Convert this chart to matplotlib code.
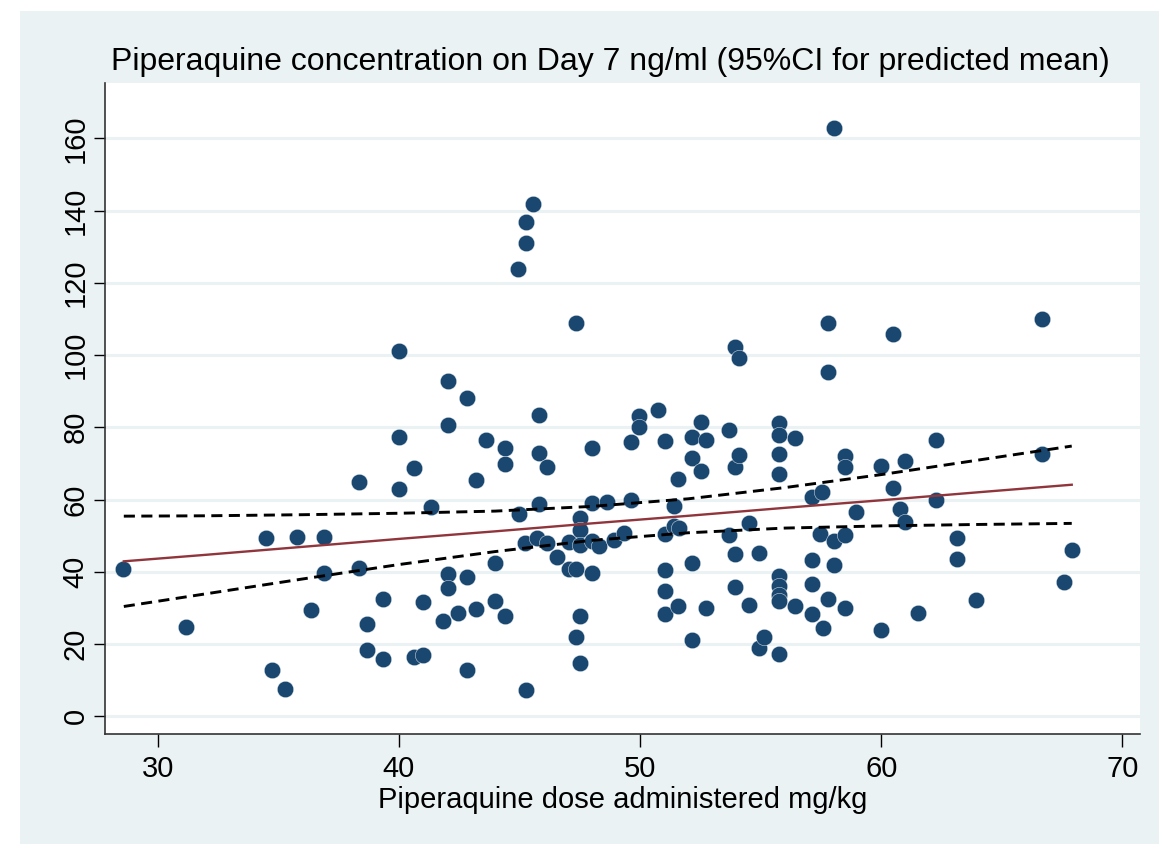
import matplotlib
matplotlib.use('Agg')
import matplotlib.pyplot as plt
from matplotlib.patches import Rectangle

# dose (mg/kg) and day-7 concentration (ng/ml)
dose = [28.55, 31.18, 34.5, 34.75, 35.29, 35.8, 36.37, 36.91, 36.92, 38.37,
        38.37, 38.69, 38.69, 39.34, 39.34, 39.99, 39.99, 39.99, 40.65, 40.65,
        41.0, 41.0, 41.35, 41.83, 42.05, 42.05, 42.05, 42.05, 42.45, 42.84,
        42.84, 42.84, 43.22, 43.22, 43.6, 44.0, 44.0, 44.4, 44.4, 44.4,
        44.96, 44.98, 45.25, 45.27, 45.27, 45.27, 45.56, 45.73, 45.83, 45.83,
        45.83, 46.14, 46.14, 46.58, 47.04, 47.04, 47.33, 47.33, 47.33, 47.51,
        47.51, 47.51, 47.51, 47.51, 47.99, 47.99, 47.99, 47.99, 48.31, 48.64,
        48.94, 49.32, 49.64, 49.64, 49.97, 49.97, 50.73, 51.04, 51.04, 51.04,
        51.04, 51.04, 51.42, 51.42, 51.63, 51.57, 51.57, 52.16, 52.16, 52.16,
        52.16, 52.54, 52.54, 52.73, 52.73, 53.71, 53.71, 53.92, 53.92, 53.92,
        53.92, 54.12, 54.12, 54.54, 54.54, 54.94, 54.94, 55.15, 55.78, 55.78,
        55.78, 55.78, 55.78, 55.78, 55.78, 55.78, 55.78, 56.43, 56.43, 57.13,
        57.13, 57.13, 57.13, 57.47, 57.55, 57.58, 57.81, 57.81, 57.81, 58.06,
        58.05, 58.05, 58.52, 58.52, 58.52, 58.52, 58.97, 60.0, 60.0, 60.5,
        60.5, 60.76, 61.0, 61.0, 61.52, 62.29, 62.29, 63.15, 63.15, 63.94,
        66.66, 66.66, 67.58, 67.9]
conc = [40.8, 24.6, 49.3, 12.9, 7.6, 49.7, 29.3, 49.7, 39.7, 64.9,
        41.1, 25.5, 18.3, 32.6, 15.8, 101.2, 77.3, 63.0, 68.6, 16.3,
        31.7, 17.1, 57.8, 26.5, 92.9, 80.5, 39.4, 35.5, 28.7, 88.2,
        38.6, 12.9, 65.3, 29.7, 76.5, 42.4, 31.9, 74.3, 69.8, 27.9,
        123.8, 56.0, 48.0, 136.8, 130.9, 7.2, 141.9, 49.4, 83.5, 72.9,
        58.9, 69.0, 48.0, 44.0, 48.2, 40.9, 108.8, 40.9, 22.0, 54.9,
        51.6, 47.3, 27.7, 14.8, 74.3, 59.1, 48.4, 39.6, 47.1, 59.2,
        48.7, 50.7, 75.9, 59.9, 83.2, 80.0, 84.8, 76.1, 50.5, 40.6,
        34.6, 28.3, 58.1, 52.6, 52.1, 65.7, 30.5, 77.3, 71.4, 42.4,
        21.1, 81.4, 67.9, 76.6, 29.9, 79.3, 50.3, 102.1, 69.0, 44.8,
        35.8, 99.1, 72.3, 53.5, 30.7, 45.1, 18.8, 22.0, 81.2, 77.9,
        72.5, 67.1, 38.9, 36.0, 33.7, 31.8, 17.2, 77.0, 30.4, 60.6,
        43.3, 36.6, 28.3, 50.5, 62.0, 24.5, 108.9, 95.4, 32.6, 162.9,
        48.6, 41.9, 72.1, 68.9, 50.1, 29.9, 56.5, 69.2, 24.0, 105.9,
        63.1, 57.4, 70.6, 53.8, 28.6, 76.5, 59.9, 49.3, 43.5, 32.3,
        110.0, 72.6, 37.1, 46.1]

# fitted line and 95% CI band, read at a few doses
fit_x = [28.6, 32, 36, 40, 44, 48, 52, 56, 60, 64, 67.9]
fit_y = [42.9, 44.7, 46.9, 49.1, 51.2, 53.4, 55.5, 57.7, 59.8, 62.0, 64.1]
ci_hi = [55.4, 55.5, 55.8, 56.2, 56.8, 58.1, 60.2, 63.3, 66.9, 70.9, 74.8]
ci_lo = [30.4, 33.9, 38.0, 42.0, 45.6, 48.7, 50.8, 52.1, 52.7, 53.1, 53.4]

bg = '#EAF2F3'
navy = '#1A476F'
maroon = '#90353B'

plt.rcParams['font.family'] = ['Liberation Sans', 'DejaVu Sans']

fig = plt.figure(figsize=(11.59, 8.44), dpi=100)
fig.patch.set_facecolor('white')
fig.add_artist(Rectangle((20 / 1159, 0), 1, 1 - 11 / 844, transform=fig.transFigure,
                         facecolor=bg, edgecolor='none', zorder=-5))

ax = fig.add_axes([105 / 1159, 1 - 734 / 844, 1035 / 1159, 651 / 844])
ax.set_facecolor('white')

ax.scatter(dose, conc, s=140, color=navy, edgecolors='white', linewidths=0.3, zorder=3)
ax.plot(fit_x, ci_hi, color='black', lw=2.1, dashes=(3.8, 2.2), zorder=4)
ax.plot(fit_x, ci_lo, color='black', lw=2.1, dashes=(3.8, 2.2), zorder=4)
ax.plot(fit_x, fit_y, color=maroon, lw=1.7, zorder=5)

ax.set_xlim(27.82, 70.73)
ax.set_ylim(-4.9, 175.3)
ax.set_xticks([30, 40, 50, 60, 70])
ax.set_yticks(range(0, 161, 20))
ax.tick_params(axis='x', length=9, width=1, pad=6, labelsize=21)
ax.tick_params(axis='y', length=8, width=1, pad=3, labelsize=21)
for lab in ax.get_yticklabels():
    lab.set_rotation(90)
    lab.set_va('center')

ax.grid(axis='y', color=bg, lw=2.2, zorder=0)
ax.set_axisbelow(True)
for side in ['top', 'right']:
    ax.spines[side].set_visible(False)
for side in ['left', 'bottom']:
    ax.spines[side].set_color('#333333')
    ax.spines[side].set_linewidth(1.2)

ax.set_xlabel('Piperaquine dose administered mg/kg', fontsize=21, labelpad=2)
fig.text(610 / 1159, 1 - 62 / 844,
         'Piperaquine concentration on Day 7 ng/ml (95%CI for predicted mean)',
         ha='center', va='center', fontsize=23)

fig.savefig('out.png', dpi=100, facecolor=fig.get_facecolor())
